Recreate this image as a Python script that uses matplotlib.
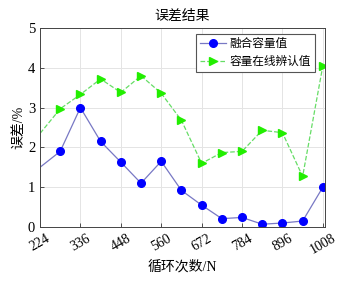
import numpy as np
import matplotlib.pyplot as plt

plt.rcParams['font.family'] = ['Liberation Serif', 'Noto Sans CJK SC']

# cycle counts (first point lies left of the visible range)
cycles = [168, 224, 280, 336, 392, 448, 504, 560, 616, 672, 728, 784, 840, 896, 952, 1008]
fused = [1.1, 1.5, 1.9, 3.0, 2.15, 1.63, 1.1, 1.65, 0.92, 0.55, 0.21, 0.24, 0.07, 0.1, 0.15, 1.0]
online = [1.7, 2.35, 2.97, 3.33, 3.72, 3.38, 3.8, 3.36, 2.68, 1.6, 1.87, 1.9, 2.43, 2.37, 1.27, 4.05]
xticks = [224, 336, 448, 560, 672, 784, 896, 1008]

fig = plt.figure(figsize=(3.44, 2.83), dpi=100)
ax = fig.add_axes([40/344, 1 - 227/283, 285/344, 199/283])

# markers only from 280 on, like the original
mk = list(range(2, len(cycles)))
ax.plot(cycles, fused, '-', color='#7878c4', lw=0.9, marker='o', ms=5.5,
        markevery=mk, mfc='#0000ff', mec='#0000ff', label='融合容量值')
ax.plot(cycles, online, '--', color='#66dd66', lw=0.9, marker='>', ms=5.5,
        markevery=mk, mfc='#22ee00', mec='#22ee00', label='容量在线辨认值')

ax.set_xlim(224, 1014)
ax.set_ylim(0, 5)
ax.set_xticks(xticks)
ax.set_xticklabels([str(t) for t in xticks], rotation=30, fontsize=10)
ax.set_yticks([0, 1, 2, 3, 4, 5])
ax.tick_params(axis='y', labelsize=10.5)
ax.tick_params(direction='in', length=3, width=0.6, color='#333333')
ax.grid(True, color='#e4e4e4', lw=0.7)
for s in ax.spines.values():
    s.set_color('#444444')
    s.set_linewidth(0.7)

ax.set_title('误差结果', fontsize=10, pad=6)
ax.set_xlabel('循环次数/N', fontsize=10, labelpad=2)
ax.set_ylabel('误差/%', fontsize=10, labelpad=2)

leg = ax.legend(loc='upper right', fontsize=8.4, fancybox=False, framealpha=1,
                edgecolor='#555555', borderpad=0.35, handlelength=2.2,
                labelspacing=0.5, borderaxespad=0.5, handletextpad=0.3,
                bbox_to_anchor=(0.985, 1.0))
leg.get_frame().set_linewidth(0.8)

fig.savefig('out.png', dpi=100)
